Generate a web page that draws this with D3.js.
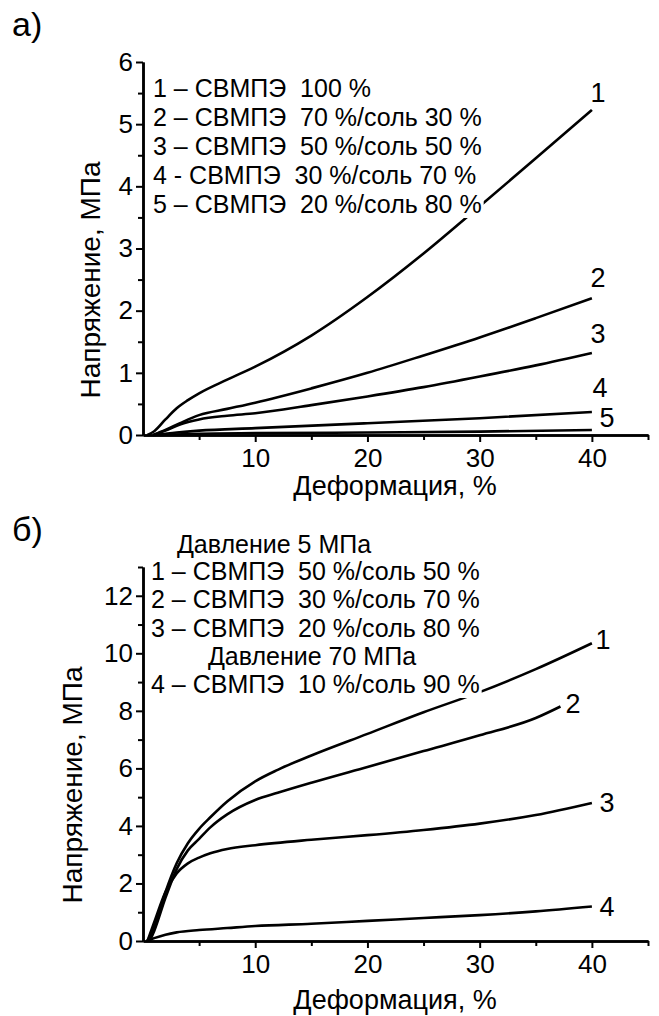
<!DOCTYPE html>
<html>
<head>
<meta charset="utf-8">
<script src="https://cdn.jsdelivr.net/npm/d3@7"></script>
<style>
  body { margin: 0; background: #fff; }
  svg text { font-family: "Liberation Sans", Arial, sans-serif; fill: #000; white-space: pre; }
</style>
</head>
<body>
<div id="chart"></div>
<script>
// panel a) stress-strain curves [strain %, stress MPa]
const aCurve1 = [[0.4,0],[1,0.06],[2,0.25],[3,0.43],[4,0.56],[5,0.67],[7.5,0.89],[10,1.1],[15,1.6],[20,2.22],[25,2.92],[30,3.68],[35,4.45],[40,5.23]];
const aCurve2 = [[0.9,0],[2,0.08],[3.3,0.19],[5,0.32],[7.5,0.42],[10,0.52],[15,0.75],[20,1.0],[25,1.28],[30,1.57],[35,1.88],[40,2.2]];
const aCurve3 = [[0.9,0],[2,0.07],[3.3,0.17],[5,0.25],[7.5,0.31],[10,0.35],[15,0.48],[20,0.62],[25,0.77],[30,0.94],[35,1.12],[40,1.32]];
const aCurve4 = [[1,0],[3,0.04],[5,0.07],[10,0.11],[20,0.19],[30,0.27],[40,0.37]];
const aCurve5 = [[1.5,0],[5,0.02],[10,0.03],[20,0.04],[30,0.055],[40,0.08]];
const aLegend = ['1 – СВМПЭ  100 %', '2 – СВМПЭ  70 %/соль 30 %', '3 – СВМПЭ  50 %/соль 50 %', '4 - СВМПЭ  30 %/соль 70 %', '5 – СВМПЭ  20 %/соль 80 %'];

// panel б)
const bCurve1 = [[0.4,0],[1,0.5],[2,1.7],[3,2.7],[4,3.4],[5,3.9],[6,4.3],[7.5,4.85],[10,5.55],[12,5.95],[15,6.45],[20,7.2],[25,7.95],[30,8.65],[35,9.45],[40,10.35]];
const bCurve2 = [[0.6,0],[1,0.35],[2,1.5],[3,2.5],[4,3.15],[5,3.55],[6,3.95],[7.5,4.4],[10,4.9],[12,5.15],[15,5.5],[20,6.05],[25,6.6],[30,7.15],[35,7.75],[37.2,8.15]];
const bCurve3 = [[0.4,0],[1,0.65],[2,1.7],[3,2.35],[4,2.7],[5,2.9],[6,3.05],[7.5,3.2],[10,3.33],[15,3.52],[20,3.68],[25,3.86],[30,4.08],[35,4.38],[40,4.8]];
const bCurve4 = [[0.3,0],[1,0.1],[2,0.22],[3,0.3],[5,0.38],[7.5,0.45],[10,0.52],[15,0.6],[20,0.7],[25,0.8],[30,0.9],[35,1.03],[40,1.2]];
const bLegend = ['1 – СВМПЭ  50 %/соль 50 %', '2 – СВМПЭ  30 %/соль 70 %', '3 – СВМПЭ  20 %/соль 80 %', '4 – СВМПЭ  10 %/соль 90 %'];
const bHeaders = ['Давление 5 МПа', 'Давление 70 МПа'];

const xTicks = [10, 20, 30, 40];
const xMinor = [5, 15, 25, 35, 45];
const aYTicks = [0, 1, 2, 3, 4, 5, 6];
const aYMinor = [0.5, 1.5, 2.5, 3.5, 4.5, 5.5];
const bYTicks = [0, 2, 4, 6, 8, 10, 12];
const bYMinor = [1, 3, 5, 7, 9, 11, 13];

const xTitle = 'Деформация, %';
const yTitle = 'Напряжение, МПа';

const W = 659, H = 1016;
const svg = d3.select('#chart').append('svg')
    .attr('width', W)
    .attr('height', H);

function drawPanel(opt) {
    const g = svg.append('g');
    const x = d3.scaleLinear().domain([0, 45]).range([143, 648]);
    const y = d3.scaleLinear().domain(opt.yDomain).range(opt.yRange);
    const y0 = y(0);

    // x axis
    g.append('g')
        .attr('transform', 'translate(0,' + y0 + ')')
        .call(d3.axisBottom(x).tickValues(xMinor).tickSize(5).tickFormat('').tickSizeOuter(0));
    g.append('g')
        .attr('transform', 'translate(0,' + y0 + ')')
        .call(d3.axisBottom(x).tickValues(xTicks).tickSize(7).tickPadding(7).tickSizeOuter(0));

    // y axis
    g.append('g')
        .attr('transform', 'translate(143,0)')
        .call(d3.axisLeft(y).tickValues(opt.yMinor).tickSize(5).tickFormat('').tickSizeOuter(0));
    g.append('g')
        .attr('transform', 'translate(143,0)')
        .call(d3.axisLeft(y).tickValues(opt.yTicks).tickSize(7).tickPadding(3)
            .tickFormat(d3.format('d')).tickSizeOuter(0));

    g.selectAll('.domain').attr('stroke', '#000').attr('stroke-width', 2.5);
    g.selectAll('.tick line').attr('stroke', '#000').attr('stroke-width', 2);
    g.selectAll('.tick text').attr('font-size', 26).attr('fill', '#000')
        .style('font-family', '"Liberation Sans", Arial, sans-serif');

    // curves
    const line = d3.line().x(d => x(d[0])).y(d => y(d[1])).curve(d3.curveMonotoneX);
    opt.curves.forEach(c => {
        g.append('path')
            .datum(c)
            .attr('fill', 'none')
            .attr('stroke', '#000')
            .attr('stroke-width', 2.6)
            .attr('d', line);
    });

    // curve numbers
    opt.numbers.forEach((n, i) => {
        g.append('text')
            .attr('x', n.x)
            .attr('y', n.y)
            .attr('text-anchor', 'middle')
            .attr('font-size', 27)
            .text(i + 1);
    });

    // legend, white knockout behind the text
    const lg = g.append('g');
    const texts = opt.legend.map(l => lg.append('text')
        .attr('x', l.x)
        .attr('y', l.y)
        .attr('text-anchor', l.anchor || 'start')
        .attr('font-size', opt.legendSize)
        .text(l.text));
    texts.forEach(t => {
        const bb = t.node().getBBox();
        lg.insert('rect', ':first-child')
            .attr('x', bb.x - 1)
            .attr('y', bb.y + 4)
            .attr('width', bb.width + 3)
            .attr('height', bb.height - 4)
            .attr('fill', '#fff');
    });

    // titles
    g.append('text')
        .attr('x', opt.xTitlePos[0])
        .attr('y', opt.xTitlePos[1])
        .attr('text-anchor', 'middle')
        .attr('font-size', 27)
        .text(xTitle);
    g.append('text')
        .attr('transform', 'translate(' + opt.yTitlePos[0] + ',' + opt.yTitlePos[1] + ') rotate(-90)')
        .attr('text-anchor', 'middle')
        .attr('font-size', 28)
        .text(yTitle);
    g.append('text')
        .attr('x', 12)
        .attr('y', opt.tagY)
        .attr('font-size', 34)
        .text(opt.tag);
}

drawPanel({
    yDomain: [0, 6], yRange: [435, 62],
    yTicks: aYTicks, yMinor: aYMinor,
    curves: [aCurve1, aCurve2, aCurve3, aCurve4, aCurve5],
    numbers: [{x: 598, y: 102}, {x: 598, y: 287}, {x: 598, y: 343}, {x: 600, y: 397}, {x: 607, y: 427}],
    legend: aLegend.map((t, i) => ({text: t, x: 153, y: 97 + i * 29})),
    legendSize: 25,
    xTitlePos: [395, 495],
    yTitlePos: [100, 280],
    tag: 'а)', tagY: 36
});

drawPanel({
    yDomain: [0, 13], yRange: [941, 567],
    yTicks: bYTicks, yMinor: bYMinor,
    curves: [bCurve1, bCurve2, bCurve3, bCurve4],
    numbers: [{x: 603, y: 649}, {x: 573, y: 713}, {x: 607, y: 812}, {x: 607, y: 916}],
    legend: [
        {text: bHeaders[0], x: 274, y: 553, anchor: 'middle'},
        {text: bLegend[0], x: 151, y: 580},
        {text: bLegend[1], x: 151, y: 608},
        {text: bLegend[2], x: 151, y: 637},
        {text: bHeaders[1], x: 312, y: 665, anchor: 'middle'},
        {text: bLegend[3], x: 151, y: 693}
    ],
    legendSize: 25,
    xTitlePos: [395, 1009],
    yTitlePos: [82, 785],
    tag: 'б)', tagY: 541
});
</script>
</body>
</html>
